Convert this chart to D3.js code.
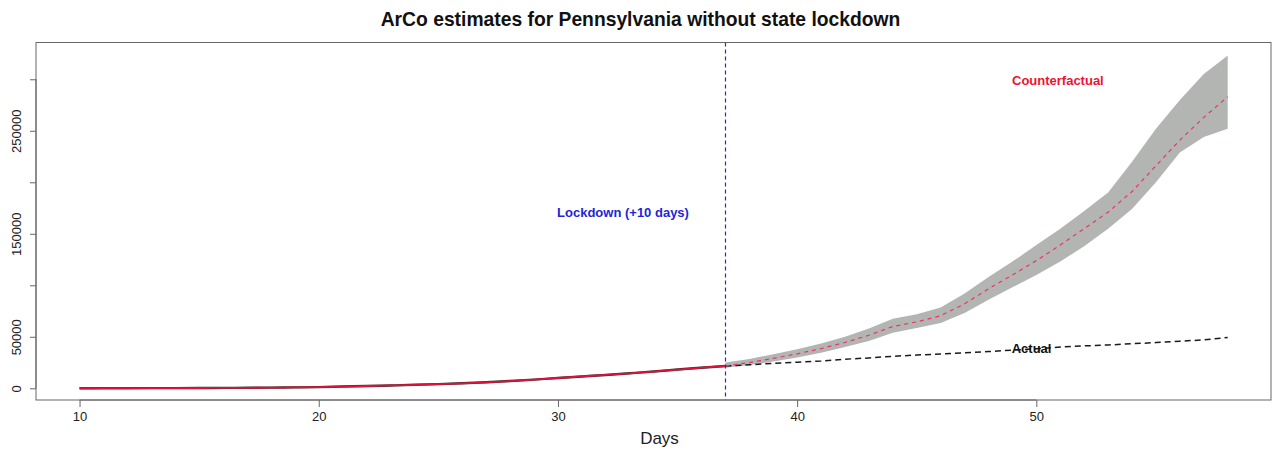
<!DOCTYPE html>
<html>
<head>
<meta charset="utf-8">
<script src="https://cdn.jsdelivr.net/npm/d3@7"></script>
<style>
  html, body { margin: 0; padding: 0; background: #ffffff; }
  svg { display: block; font-family: "Liberation Sans", Arial, Helvetica, sans-serif; }
</style>
</head>
<body>
<svg id="chart" width="1278" height="454"></svg>
<script>
// ---- data ----
const preDays = [10,11,12,13,14,15,16,17,18,19,20,21,22,23,24,25,26,27,28,29,30,31,32,33,34,35,36,37];
const preCases = [63,76,96,133,185,268,371,479,644,851,1127,1687,2218,2751,3394,4087,4843,5805,7016,8420,10017,11510,12980,14559,16239,18228,19979,21655];

const postDays = [37,38,39,40,41,42,43,44,45,46,47,48,49,50,51,52,53,54,55,56,57,58];
const actualCases = [21655,22833,24199,25345,26490,28258,29441,31069,32284,33232,34528,35684,37053,38379,40049,41165,42050,43264,44366,45763,46971,49267];
const counterfactual = [21700,25000,29000,33500,38500,44500,51500,60000,64500,70500,82000,96500,110000,124000,139000,155000,171000,191000,216000,241000,263000,283000];
const cfLower = [20000,22500,26000,30000,34500,40000,46000,54000,58500,63500,73000,86000,98000,110000,123000,138000,155000,174000,200000,229000,244000,252000];
const cfUpper = [25000,28500,33000,38000,43500,50000,58000,67500,72000,78500,92000,108000,123000,139000,155000,172000,190000,220000,252000,280000,305000,323000];

const xTicks = [10,20,30,40,50];
const yTicks = [0,50000,100000,150000,200000,250000,300000];
const yTickLabels = ["0","50000","","150000","","250000",""];
const lockdownDay = 37;

const titleText = "ArCo estimates for Pennsylvania without state lockdown";
const xLabel = "Days";
const lockdownLabel = "Lockdown (+10 days)";
const cfLabel = "Counterfactual";
const actualLabel = "Actual";

// ---- layout ----
const plot = {left: 36, right: 1271, top: 42.5, bottom: 400};
const svg = d3.select("#chart");

const x = d3.scaleLinear().domain([8.18, 59.81]).range([plot.left, plot.right]);
const y = d3.scaleLinear().domain([-11360, 335700]).range([plot.bottom, plot.top]);

// title
svg.append("text")
  .attr("x", (plot.left + plot.right) / 2 - 13).attr("y", 26)
  .attr("text-anchor", "middle")
  .attr("font-size", 19.3).attr("font-weight", "bold").attr("fill", "#111")
  .text(titleText);

// band
const post = postDays.map((d, i) => ({d, c: counterfactual[i], lo: cfLower[i], hi: cfUpper[i], a: actualCases[i]}));
svg.append("path")
  .datum(post)
  .attr("fill", "#b3b5b3")
  .attr("d", d3.area().x(p => x(p.d)).y0(p => y(p.lo)).y1(p => y(p.hi)));

// pre-lockdown solid line (actual under, red over)
const pre = preDays.map((d, i) => ({d, v: preCases[i]}));
const preLine = d3.line().x(p => x(p.d)).y(p => y(p.v)).curve(d3.curveMonotoneX);
svg.append("path").datum(pre)
  .attr("fill", "none").attr("stroke", "#333").attr("stroke-width", 2.4)
  .attr("d", preLine);
svg.append("path").datum(pre)
  .attr("fill", "none").attr("stroke", "#e0103a").attr("stroke-width", 1.8)
  .attr("d", preLine);

// actual dashed
svg.append("path").datum(post)
  .attr("fill", "none").attr("stroke", "#1a1a1a").attr("stroke-width", 1.5)
  .attr("stroke-dasharray", "6,4")
  .attr("d", d3.line().x(p => x(p.d)).y(p => y(p.a)));

// counterfactual dashed
svg.append("path").datum(post)
  .attr("fill", "none").attr("stroke", "#f0306a").attr("stroke-width", 1.2)
  .attr("stroke-dasharray", "4,4")
  .attr("d", d3.line().x(p => x(p.d)).y(p => y(p.c)));

// lockdown line (pixel-snapped so the blue stays crisp)
const lx = Math.floor(x(lockdownDay)) + 0.5;
svg.append("line")
  .attr("x1", lx).attr("x2", lx)
  .attr("y1", plot.top).attr("y2", plot.bottom)
  .attr("stroke", "#2b2bb5").attr("stroke-width", 1.2)
  .attr("stroke-dasharray", "4,3");

// labels
svg.append("text")
  .attr("x", 623).attr("y", y(166000))
  .attr("text-anchor", "middle").attr("font-size", 13).attr("font-weight", "bold")
  .attr("fill", "#2424d8").text(lockdownLabel);
svg.append("text")
  .attr("x", x(50.9)).attr("y", y(294000))
  .attr("text-anchor", "middle").attr("font-size", 13).attr("font-weight", "bold")
  .attr("fill", "#ee1133").text(cfLabel);
svg.append("text")
  .attr("x", x(49.8)).attr("y", y(34000))
  .attr("text-anchor", "middle").attr("font-size", 13).attr("font-weight", "bold")
  .attr("fill", "#111").text(actualLabel);

// box
svg.append("rect")
  .attr("x", plot.left).attr("y", plot.top)
  .attr("width", plot.right - plot.left).attr("height", plot.bottom - plot.top)
  .attr("fill", "none").attr("stroke", "#666").attr("stroke-width", 1);

// x axis (R style: axis line spans first to last tick)
const xAxis = svg.append("g")
  .attr("transform", `translate(0,${plot.bottom})`)
  .call(d3.axisBottom(x).tickValues(xTicks).tickSize(7).tickSizeOuter(0).tickPadding(5).tickFormat(d3.format("d")));
xAxis.select(".domain").remove();
xAxis.append("line")
  .attr("x1", x(xTicks[0])).attr("x2", x(xTicks[xTicks.length - 1]))
  .attr("stroke", "#666");
xAxis.selectAll(".tick line").attr("stroke", "#666");
xAxis.selectAll("text").attr("font-size", 13).attr("fill", "#222")
  .attr("font-family", "'Liberation Sans', Arial, sans-serif");

// y axis
const yAxis = svg.append("g")
  .attr("transform", `translate(${plot.left},0)`)
  .call(d3.axisLeft(y).tickValues(yTicks).tickSize(6).tickSizeOuter(0).tickFormat((d, i) => yTickLabels[i]));
yAxis.select(".domain").remove();
yAxis.append("line")
  .attr("y1", y(yTicks[0])).attr("y2", y(yTicks[yTicks.length - 1]))
  .attr("stroke", "#666");
yAxis.selectAll(".tick line").attr("stroke", "#666");
yAxis.selectAll(".tick text")
  .attr("font-size", 13).attr("fill", "#222")
  .attr("font-family", "'Liberation Sans', Arial, sans-serif")
  .attr("text-anchor", "middle")
  .attr("dy", "0.35em")
  .attr("transform", "translate(-20,0) rotate(-90)")
  .attr("x", 0).attr("y", 0);

// x label
svg.append("text")
  .attr("x", (plot.left + plot.right) / 2 + 6).attr("y", 444)
  .attr("text-anchor", "middle").attr("font-size", 17).attr("fill", "#222")
  .text(xLabel);
</script>
</body>
</html>
